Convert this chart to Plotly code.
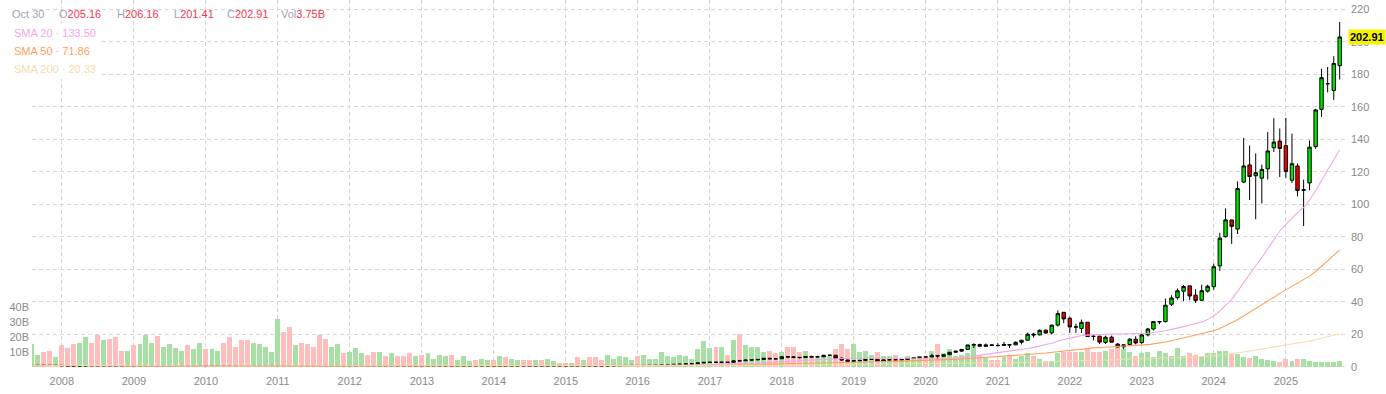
import pandas as pd
import plotly.graph_objects as go

# ---------------- data (monthly, Aug 2007 .. Oct 2025) ----------------
months = pd.date_range("2007-08-01", "2025-10-01", freq="MS")

open_ = [
    0.77, 0.85, 0.91, 0.89, 0.79,
    0.85, 0.62, 0.54, 0.50, 0.52, 0.62, 0.47, 0.29, 0.32, 0.27, 0.22, 0.18,
    0.21, 0.20, 0.21, 0.25, 0.29, 0.25, 0.28, 0.32, 0.37, 0.38, 0.30, 0.35,
    0.47, 0.39, 0.41, 0.43, 0.39, 0.33, 0.26, 0.23, 0.23, 0.29, 0.30, 0.35,
    0.39, 0.60, 0.57, 0.46, 0.51, 0.50, 0.40, 0.35, 0.32, 0.31, 0.37, 0.39,
    0.35, 0.37, 0.38, 0.39, 0.33, 0.32, 0.35, 0.34, 0.35, 0.33, 0.31, 0.30,
    0.32, 0.30, 0.31, 0.32, 0.35, 0.36, 0.35, 0.37, 0.38, 0.39, 0.38, 0.39,
    0.40, 0.39, 0.46, 0.45, 0.46, 0.48, 0.46, 0.44, 0.49, 0.46, 0.49, 0.52,
    0.50, 0.48, 0.57, 0.52, 0.56, 0.55, 0.51, 0.50, 0.56, 0.62, 0.71, 0.79,
    0.82, 0.73, 0.78, 0.88, 0.89, 1.16, 1.18, 1.43, 1.53, 1.71, 1.78, 2.31,
    2.62, 2.73, 2.70, 2.72, 2.70, 3.64, 3.63, 4.06, 4.22, 4.48, 5.19, 4.86,
    4.90, 6.17, 6.06, 5.79, 5.63, 6.30, 5.93, 6.13, 7.02, 7.04, 5.29, 4.12,
    3.35, 3.61, 3.87, 4.51, 4.54, 3.41, 4.12, 4.23, 4.20, 4.36, 5.05, 5.44,
    5.98, 5.92, 6.80, 6.42, 7.34, 8.89, 9.55, 10.65, 13.43, 13.65, 12.53, 13.48,
    13.10, 13.05, 13.62, 13.43, 15.05, 16.30, 20.07, 19.60, 22.45, 20.84, 25.61, 33.47,
    29.81, 24.57, 23.54, 27.34, 18.80, 18.76, 14.96, 18.17, 13.92, 12.20, 13.64, 16.92,
    14.85, 19.57, 23.19, 27.56, 27.71, 38.45, 42.52, 46.46, 49.74, 44.03, 40.88, 46.50,
    49.24, 62.05, 80.00, 90.30, 84.70, 113.62, 124.18, 117.53, 116.01, 121.77, 134.70, 138.83,
    136.00, 114.75, 123.51, 108.52, 113.08, 135.49, 158.37, 174.09, 170.00, 185.24,
]
high = [
    0.88, 0.93, 0.98, 0.90, 0.88,
    0.86, 0.68, 0.56, 0.58, 0.66, 0.63, 0.48, 0.36, 0.33, 0.28, 0.24, 0.22,
    0.23, 0.23, 0.26, 0.31, 0.30, 0.30, 0.34, 0.39, 0.41, 0.39, 0.36, 0.47,
    0.47, 0.42, 0.46, 0.46, 0.40, 0.35, 0.27, 0.25, 0.30, 0.32, 0.36, 0.39,
    0.62, 0.65, 0.57, 0.52, 0.55, 0.50, 0.41, 0.36, 0.35, 0.43, 0.40, 0.40,
    0.38, 0.40, 0.41, 0.39, 0.35, 0.35, 0.36, 0.37, 0.36, 0.34, 0.31, 0.32,
    0.32, 0.32, 0.33, 0.35, 0.37, 0.37, 0.37, 0.40, 0.40, 0.40, 0.39, 0.40,
    0.41, 0.46, 0.47, 0.47, 0.48, 0.48, 0.48, 0.49, 0.50, 0.49, 0.53, 0.53,
    0.52, 0.57, 0.58, 0.57, 0.58, 0.56, 0.52, 0.58, 0.63, 0.72, 0.82, 0.85,
    0.83, 0.80, 0.90, 0.92, 1.18, 1.20, 1.45, 1.59, 1.74, 1.82, 2.35, 2.92,
    3.00, 2.99, 2.91, 2.83, 3.73, 4.21, 4.18, 4.56, 4.71, 5.25, 5.35, 5.07,
    6.15, 6.25, 6.26, 5.89, 6.50, 6.75, 6.72, 7.27, 7.32, 7.25, 5.50, 4.30,
    3.89, 4.00, 4.65, 4.86, 4.54, 4.18, 4.63, 4.26, 4.70, 5.18, 5.52, 5.99,
    6.30, 7.87, 7.21, 7.53, 9.04, 9.78, 10.95, 13.45, 14.47, 14.17, 14.29, 13.72,
    14.45, 15.25, 13.90, 15.61, 16.48, 20.93, 20.85, 23.00, 22.89, 25.90, 34.66, 33.62,
    30.78, 26.51, 28.97, 27.37, 19.96, 19.02, 19.13, 19.16, 14.47, 13.89, 17.49, 18.76,
    20.86, 23.89, 27.89, 28.15, 41.93, 43.98, 48.09, 50.25, 49.86, 47.69, 50.46, 50.43,
    63.49, 82.39, 97.40, 90.40, 114.00, 140.76, 136.15, 131.26, 124.36, 144.42, 152.89, 146.54,
    153.13, 143.44, 125.09, 115.10, 139.19, 158.71, 183.30, 184.48, 191.05, 212.19,
]
low = [
    0.70, 0.80, 0.84, 0.66, 0.75,
    0.46, 0.50, 0.44, 0.47, 0.51, 0.46, 0.26, 0.28, 0.19, 0.15, 0.14, 0.17,
    0.18, 0.18, 0.19, 0.24, 0.24, 0.24, 0.27, 0.32, 0.34, 0.30, 0.29, 0.34,
    0.37, 0.36, 0.40, 0.38, 0.31, 0.25, 0.22, 0.21, 0.22, 0.28, 0.29, 0.34,
    0.38, 0.50, 0.44, 0.44, 0.47, 0.37, 0.33, 0.28, 0.30, 0.29, 0.33, 0.33,
    0.34, 0.36, 0.37, 0.31, 0.30, 0.30, 0.30, 0.33, 0.32, 0.29, 0.28, 0.29,
    0.30, 0.30, 0.30, 0.31, 0.34, 0.33, 0.34, 0.36, 0.37, 0.35, 0.37, 0.38,
    0.38, 0.39, 0.42, 0.43, 0.45, 0.45, 0.43, 0.43, 0.45, 0.41, 0.48, 0.48,
    0.47, 0.48, 0.51, 0.51, 0.55, 0.50, 0.46, 0.44, 0.56, 0.60, 0.70, 0.78,
    0.64, 0.65, 0.77, 0.85, 0.87, 1.07, 1.15, 1.38, 1.47, 1.62, 1.63, 2.15,
    2.51, 2.42, 2.39, 2.47, 2.52, 3.37, 3.51, 3.76, 4.03, 4.44, 4.66, 4.54,
    4.86, 5.26, 5.18, 5.08, 5.55, 5.88, 5.82, 6.07, 6.66, 4.93, 3.60, 3.12,
    3.16, 3.48, 3.80, 4.40, 3.29, 3.33, 4.05, 3.69, 4.06, 4.18, 4.96, 5.23,
    5.49, 5.88, 4.50, 6.23, 7.29, 8.44, 9.34, 10.60, 11.53, 12.43, 12.41, 12.67,
    12.50, 12.98, 11.55, 13.27, 13.71, 16.25, 17.95, 19.19, 20.31, 19.84, 24.69, 26.84,
    20.85, 20.85, 20.78, 18.54, 16.17, 14.00, 14.01, 14.96, 11.96, 10.81, 13.21, 13.80,
    14.03, 18.63, 22.27, 26.22, 27.23, 37.32, 41.27, 40.30, 41.00, 39.23, 40.81, 45.61,
    47.32, 58.92, 79.43, 75.61, 81.61, 113.00, 102.54, 90.69, 100.43, 115.14, 132.11, 116.71,
    116.25, 113.01, 104.77, 86.62, 108.60, 134.00, 153.70, 168.80, 164.07, 176.76,
]
close = [
    0.85, 0.91, 0.89, 0.79, 0.85,
    0.62, 0.54, 0.50, 0.52, 0.62, 0.47, 0.29, 0.32, 0.27, 0.22, 0.18, 0.20,
    0.20, 0.21, 0.25, 0.29, 0.25, 0.28, 0.32, 0.38, 0.38, 0.30, 0.35, 0.47,
    0.39, 0.41, 0.43, 0.39, 0.33, 0.26, 0.23, 0.22, 0.29, 0.30, 0.35, 0.39,
    0.60, 0.57, 0.46, 0.50, 0.50, 0.40, 0.35, 0.32, 0.31, 0.37, 0.39, 0.35,
    0.37, 0.39, 0.39, 0.33, 0.32, 0.35, 0.34, 0.35, 0.33, 0.30, 0.30, 0.31,
    0.31, 0.31, 0.32, 0.35, 0.36, 0.35, 0.37, 0.39, 0.39, 0.38, 0.39, 0.40,
    0.39, 0.45, 0.45, 0.46, 0.48, 0.46, 0.44, 0.49, 0.46, 0.49, 0.52, 0.50,
    0.48, 0.57, 0.52, 0.56, 0.55, 0.50, 0.50, 0.56, 0.62, 0.71, 0.79, 0.82,
    0.73, 0.79, 0.89, 0.89, 1.17, 1.18, 1.43, 1.53, 1.71, 1.78, 2.31, 2.67,
    2.73, 2.72, 2.72, 2.70, 3.60, 3.62, 4.06, 4.23, 4.47, 5.17, 4.84, 4.84,
    6.15, 6.04, 5.79, 5.62, 6.31, 5.92, 6.12, 7.02, 7.03, 5.27, 4.09, 3.34,
    3.60, 3.86, 4.49, 4.53, 3.39, 4.11, 4.22, 4.22, 4.35, 5.03, 5.42, 5.88,
    5.91, 6.75, 6.59, 7.31, 8.88, 9.50, 10.62, 13.38, 13.53, 12.54, 13.40, 13.06,
    12.99, 13.72, 13.35, 15.01, 16.25, 20.00, 19.50, 22.39, 20.72, 25.57, 32.68, 29.41,
    24.49, 24.39, 27.29, 18.55, 18.67, 15.16, 18.16, 15.09, 12.14, 13.50, 16.92, 14.61,
    19.54, 23.22, 27.78, 27.75, 37.83, 42.30, 46.73, 49.36, 43.50, 40.78, 46.77, 49.52,
    61.53, 79.11, 90.36, 86.40, 109.63, 123.54, 117.02, 119.37, 121.44, 132.76, 138.25, 134.29,
    120.07, 124.92, 108.38, 108.92, 135.13, 157.99, 177.87, 174.18, 186.58, 202.91,
]
volume_b = [  # billions of shares
    14.9, 8.1, 9.5, 10.8, 6.1,
    14.2, 12.2, 14.9, 15.6, 19.6, 16.2, 21.6, 17.6, 18.9, 19.6, 10.8, 10.8,
    14.2, 14.9, 21.0, 16.2, 20.3, 13.5, 14.9, 12.2, 10.8, 14.2, 11.5, 15.6,
    11.5, 11.5, 10.8, 16.2, 19.6, 12.9, 18.2, 18.2, 16.2, 14.9, 13.5, 10.1,
    31.8, 23.0, 26.4, 14.2, 16.2, 14.9, 13.5, 21.6, 18.9, 13.5, 14.9, 8.8,
    10.1, 12.2, 8.8, 8.1, 10.1, 10.1, 7.4, 8.8, 7.4, 6.8, 8.8, 6.8,
    8.1, 8.8, 5.4, 8.1, 6.8, 8.1, 4.1, 6.8, 3.4, 4.7, 5.4, 4.7,
    4.1, 6.8, 6.1, 5.4, 4.1, 4.7, 4.7, 4.7, 4.1, 5.4, 3.4, 2.7,
    2.7, 2.7, 6.1, 4.7, 6.1, 6.1, 4.1, 8.1, 5.4, 6.8, 6.1, 4.1,
    6.8, 8.1, 5.4, 5.4, 9.5, 6.8, 6.1, 8.1, 7.4, 5.4, 11.5, 16.9,
    12.2, 12.9, 12.9, 8.1, 18.2, 22.3, 14.2, 13.5, 13.5, 10.1, 10.8, 8.8,
    10.1, 13.5, 12.9, 10.1, 10.8, 7.4, 5.9, 6.8, 6.8, 11.5, 14.9, 11.5,
    15.5, 10.1, 10.8, 8.1, 10.1, 6.8, 7.4, 8.1, 5.4, 6.8, 6.1, 6.8,
    6.8, 10.8, 14.9, 8.8, 11.5, 6.8, 8.1, 8.8, 14.9, 7.4, 6.1, 4.1,
    4.7, 6.1, 6.8, 5.4, 6.8, 8.8, 6.8, 5.4, 3.4, 3.4, 8.8, 10.1,
    9.5, 9.5, 10.1, 12.8, 9.5, 9.5, 10.8, 11.5, 14.9, 11.5, 9.5, 7.4,
    8.8, 10.1, 6.1, 10.8, 8.8, 6.8, 12.2, 7.4, 8.8, 8.1, 6.1, 8.8,
    9.0, 10.5, 10.8, 8.6, 8.4, 6.6, 6.0, 6.8, 4.8, 4.2, 3.8, 3.2,
    4.8, 3.8, 4.8, 5.2, 3.8, 3.2, 3.0, 3.2, 3.3, 3.75,
]

sma_periods = [20, 50, 200]
sma_colors = ["#f2a6e6", "#ffa05a", "#f5dcac"]
legend_values = ["133.50", "71.86", "20.33"]

header_date = "Oct 30"
header_ohlcv = [("O", "205.16"), ("H", "206.16"), ("L", "201.41"), ("C", "202.91"), ("Vol", "3.75B")]
last_price = 202.91

price_ticks = list(range(0, 221, 20))
vol_ticks = [10, 20, 30, 40]

# ---------------- figure ----------------
df = pd.DataFrame({"open": open_, "high": high, "low": low, "close": close,
                   "vol": volume_b}, index=months)

W, H = 1386, 394
ML, MR, MT, MB = 32, 41, 0, 24
PW, PH = W - ML - MR, H - MT - MB


def px(x):
    return (x - ML) / PW


def py(y):
    return (PH - (y - MT)) / PH


FONT = "Arial, 'Liberation Sans', sans-serif"
GREEN_V = "rgb(168,223,165)"
RED_V = "rgb(255,190,190)"

fig = go.Figure()

vol_colors = [GREEN_V if c >= o else RED_V for o, c in zip(df.open, df.close)]
fig.add_trace(go.Bar(
    x=df.index, y=df.vol * 1e9, marker=dict(color=vol_colors, line=dict(width=0)),
    width=25 * 86400000, yaxis="y", hoverinfo="skip", showlegend=False))

for n, col in zip(sma_periods, sma_colors):
    sma = df.close.rolling(n, min_periods=1).mean()
    fig.add_trace(go.Scatter(x=df.index, y=sma, mode="lines", yaxis="y2",
                             line=dict(color=col, width=1.1), hoverinfo="skip",
                             showlegend=False))

fig.add_trace(go.Candlestick(
    x=df.index, open=df.open, high=df.high, low=df.low, close=df.close, yaxis="y2",
    increasing=dict(fillcolor="#00e600", line=dict(color="black", width=1)),
    decreasing=dict(fillcolor="#ee0000", line=dict(color="black", width=1)),
    whiskerwidth=0, showlegend=False))

grid = dict(gridcolor="#d6d6d6", griddash="4px,3px", gridwidth=1)
tickfont = dict(family=FONT, size=11, color="#8a8a8a")

fig.update_layout(
    width=W, height=H, margin=dict(l=ML, r=MR, t=MT, b=MB),
    paper_bgcolor="white", plot_bgcolor="white", boxgap=0.12,
    bargap=0, showlegend=False, font=dict(family=FONT),
    xaxis=dict(type="date", range=["2007-08-03", "2025-10-28"], dtick="M12",
               tick0="2008-01-01", tickformat="%Y", showline=False, zeroline=False,
               tickfont=tickfont, ticks="", ticklabelstandoff=3,
               rangeslider=dict(visible=False), **grid),
    yaxis=dict(side="left", range=[-2.36e9, 247.6e9], tickvals=[v * 1e9 for v in vol_ticks],
               ticktext=[f"{v}B" for v in vol_ticks], showgrid=False, zeroline=False,
               showline=False, tickfont=tickfont,
               ticks="", ticklabelstandoff=2, fixedrange=True),
    yaxis2=dict(side="right", overlaying="y", range=[-2.03, 225.66], tickvals=price_ticks,
                zeroline=False, showline=False, tickfont=tickfont, ticks="",
                ticklabelstandoff=5, **grid),
)

ann = []
# header row
ann.append(dict(x=px(10), y=py(14), text=header_date, font=dict(size=11, color="#9ea3b5", family=FONT)))
hx = [57, 115, 172, 225, 279]
for x0, (lab, val) in zip(hx, header_ohlcv):
    ann.append(dict(x=px(x0), y=py(14),
                    text=f"<span style='color:#9ea3b5'>{lab}</span><span style='color:#f7364d'>{val}</span>",
                    font=dict(size=11, family=FONT)))
# SMA legend rows
for i, (n, col, v) in enumerate(zip(sma_periods, sma_colors, legend_values)):
    ann.append(dict(x=px(10), y=py(32.5 + 18 * i), text=f"SMA {n} · {v}",
                    font=dict(size=11, color=col, family=FONT), bgcolor="white", borderpad=3))
for a in ann:
    a.update(xref="paper", yref="paper", xanchor="left", yanchor="middle", showarrow=False)

# last price tag
ann.append(dict(xref="paper", yref="y2", x=px(1348), y=last_price, xanchor="left",
                yanchor="middle", showarrow=False, text=f"<b>{last_price:.2f}</b>",
                bgcolor="#f5f200", borderpad=1, font=dict(size=11, color="black", family=FONT)))
fig.update_layout(annotations=ann)

fig.write_html("out.html")
